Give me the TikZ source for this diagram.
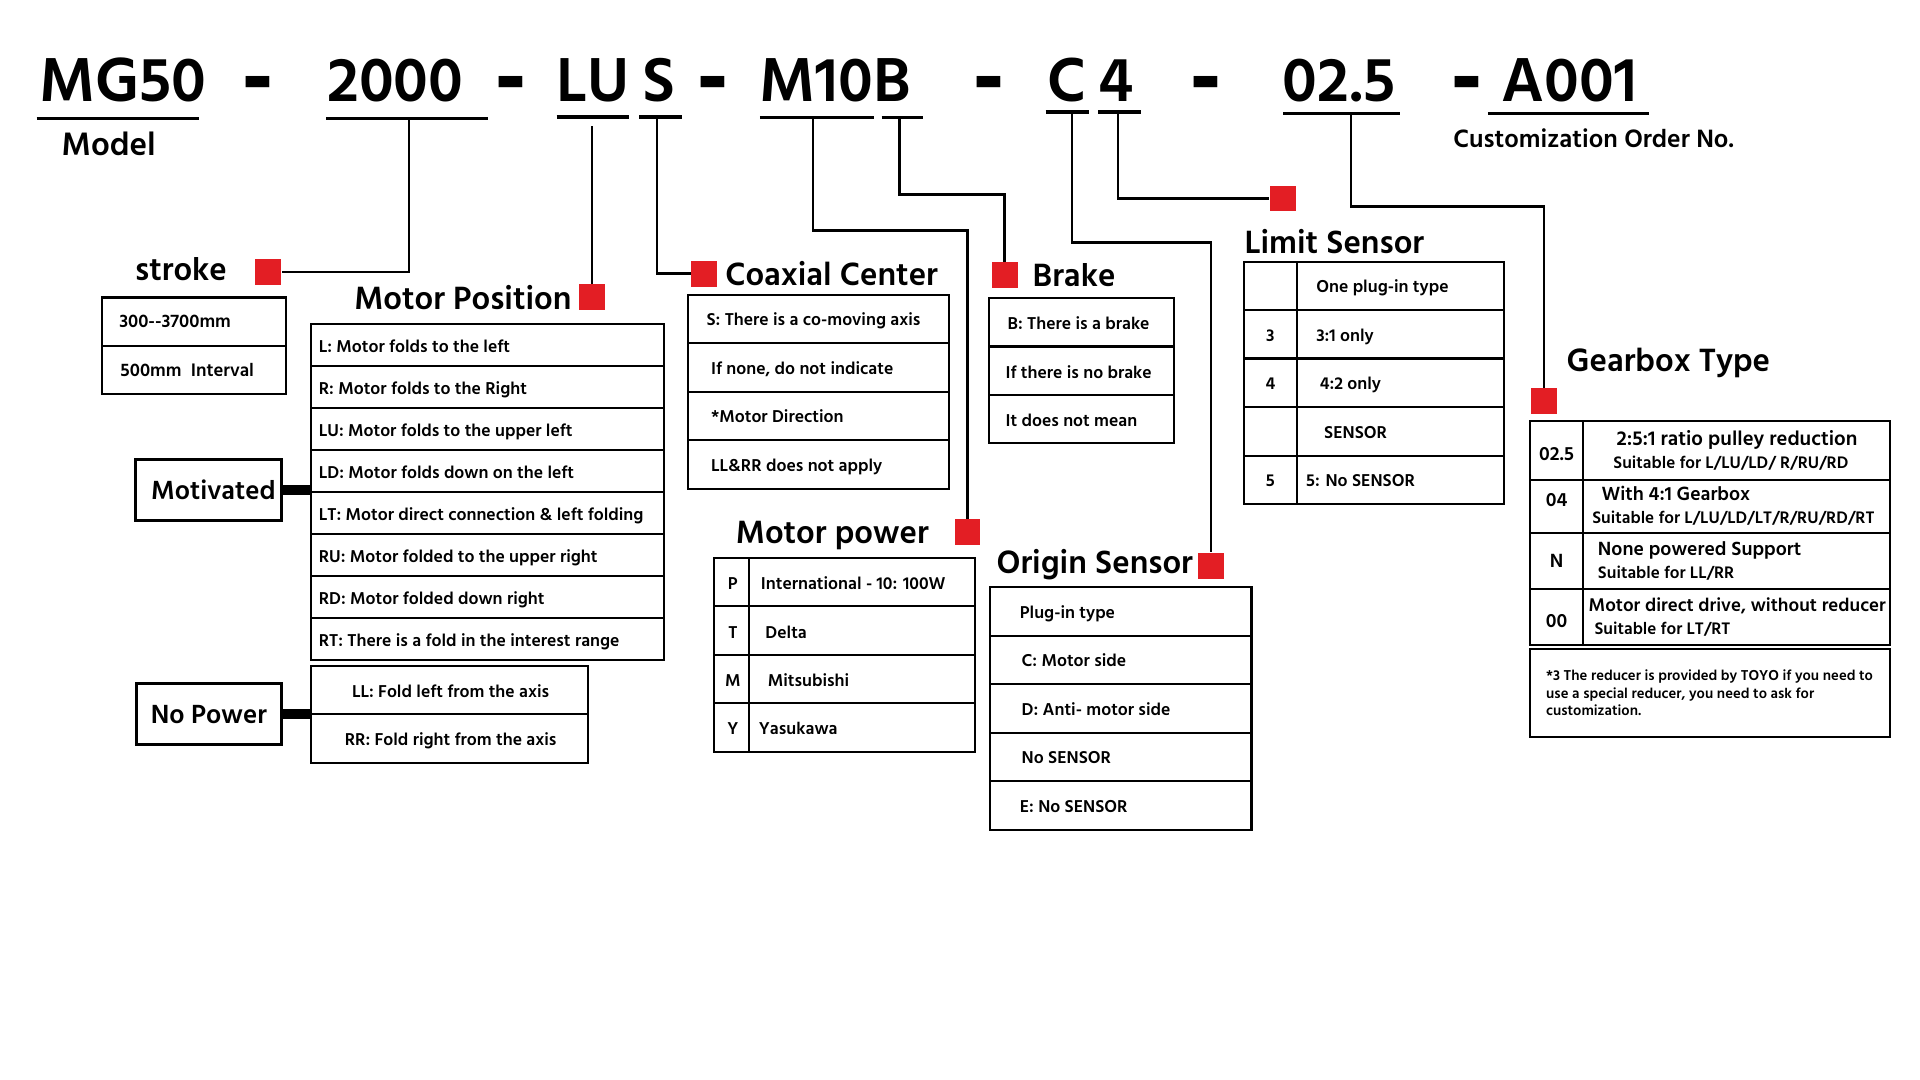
\documentclass[tikz,border=0pt]{standalone}
\usepackage{fontspec}
\setmainfont{Hind Madurai}
\newfontfamily\dashfont{Liberation Sans}
\usepackage{tikz}
\definecolor{mRed}{HTML}{E31E24}

\begin{document}
\begin{tikzpicture}[x=0.5pt,y=-0.5pt,
  box/.style={line width=0.9pt},
  wire/.style={line width=1pt},
  uline/.style={line width=1.3pt},
  frame/.style={draw,line width=0.9pt,inner sep=0pt,outer sep=0pt,anchor=north west},
  redsq/.style={fill=mRed,minimum size=10.5pt,inner sep=0pt},
  code/.style={font=\fontsize{26}{28}\selectfont\bfseries,anchor=base west,inner sep=0pt},
  sep/.style={font=\dashfont\fontsize{26}{28}\selectfont\bfseries,anchor=base,inner sep=0pt},
  head/.style={font=\fontsize{13.5}{15}\selectfont\bfseries,anchor=base west,inner sep=0pt},
  cell/.style={font=\fontsize{7.2}{8}\selectfont\bfseries,anchor=mid west,inner sep=0pt},
  gtop/.style={font=\fontsize{8}{9}\selectfont\bfseries,anchor=base west,inner sep=0pt},
  gsub/.style={font=\fontsize{7}{8}\selectfont\bfseries,anchor=base west,inner sep=0pt},
  sidebox/.style={draw,line width=1.2pt,minimum width=59.3pt,minimum height=25pt,inner sep=0pt,
    font=\fontsize{11}{12}\selectfont\bfseries},
  bar/.style={line width=4pt}]
  \useasboundingbox (0,0) rectangle (1568,882);

  % part number
  \foreach \n/\x/\t in {cMG/32/MG50, cLen/267/2000, cLU/454/LU, cS/524/S, cM/620/M10B,
      cC/855/C, cFour/897/4, cGear/1047/02.5, cA/1226/A001}
    \node[code] (\n) at (\x,83) {\t};
  \foreach \x [count=\i] in {210.5,417,582.6,808,984.5,1198}
    \node[sep] (dash\i) at (\x,87) {\scalebox{1.46}[1.48]{-}};
  \foreach \a/\b/\y in {30/162.5/97, 266.5/398.7/96.6, 454.6/513.6/95.5, 522/556.6/95.5,
      620.6/714/96, 720/754/96, 854/889/91.5, 897/932/91.5, 1048/1143/92.8, 1215/1347/92.8}
    \draw[uline] (\a,\y) -- (\b,\y);

  \node[font=\fontsize{13.6}{15}\selectfont\bfseries,anchor=base west,inner sep=0pt] (model) at (50,126.6) {Model};
  \node[font=\fontsize{10.5}{12}\selectfont\bfseries,anchor=base west,inner sep=0pt] (order) at (1186.6,120.4) {Customization Order No.};

  \coordinate (uLen) at (334,96.6);
  \coordinate (uLU) at (483.3,103);
  \coordinate (uS) at (536.5,95.5);
  \coordinate (uM) at (664,96);
  \coordinate (uB) at (734.5,96);
  \coordinate (uC) at (875.5,91.5);
  \coordinate (uFour) at (913,91.5);
  \coordinate (uGear) at (1103.5,92.8);

  \node[redsq] (sqStroke) at (219,222) {};
  \node[redsq] (sqPos) at (483.3,242.5) {};
  \node[redsq] (sqCoax) at (575,223.5) {};
  \node[redsq] (sqBrake) at (820.5,224.5) {};
  \node[redsq] (sqPower) at (790,434.5) {};
  \node[redsq] (sqOrigin) at (989,462) {};
  \node[redsq] (sqLimit) at (1047.5,162) {};
  \node[redsq] (sqGear) at (1261,327.5) {};

  \draw[wire] (uLen) |- (sqStroke.east);
  \draw[wire] (uLU) -- (sqPos.north);
  \draw[wire] (uS) |- (sqCoax.west);
  \draw[wire] (uM) -- ++(0,92.4) -| (sqPower.north);
  \draw[wire] (uB) -- ++(0,63) -| (sqBrake.north);
  \draw[wire] (uC) -- ++(0,106.5) -| (sqOrigin.north);
  \draw[wire] (uFour) |- (sqLimit.west);
  \draw[wire] (uGear) -- ++(0,75.7) -| (sqGear.north);

  \node[head] (hStroke) at (110,228.7) {stroke};
  \node[head] (hPos) at (289,253) {Motor Position};
  \node[head] (hCoax) at (592,233) {Coaxial Center};
  \node[head] (hBrake) at (843,234) {Brake};
  \node[head] (hPower) at (600.6,443.5) {Motor power};
  \node[head] (hOrigin) at (813.5,468) {Origin Sensor};
  \node[head] (hLimit) at (1016,207) {Limit Sensor};
  \node[head] (hGear) at (1279,303.3) {Gearbox Type};

  % stroke
  \node[frame,minimum width=75.1pt,minimum height=39.5pt] (tStroke) at (83.5,243) {};
  \draw[box] (83.5,282.6) -- (233.7,282.6);
  \node[cell,font=\fontsize{7.6}{8}\selectfont\bfseries] (st1) at (97,262.5) {300-{}-3700mm};
  \node[cell,font=\fontsize{7.6}{8}\selectfont\bfseries] (st2) at (98,302.5) {500mm\ \ Interval};

  % motor position
  \node[frame,minimum width=144.15pt,minimum height=137.35pt] (tPos) at (254,264.3) {};
  \foreach \t [count=\i from 0] in {L: Motor folds to the left, R: Motor folds to the Right,
      LU: Motor folds to the upper left, LD: Motor folds down on the left,
      LT: Motor direct connection \& left folding, RU: Motor folded to the upper right,
      RD: Motor folded down right, RT: There is a fold in the interest range}{
    \draw[box] (254,264.3+34.34*\i) -- (542.3,264.3+34.34*\i);
    \node[cell] (pos\i) at (260,282.5+34.34*\i) {\t};
  }
  \node[frame,minimum width=113pt,minimum height=39.5pt] (tAxis) at (254,544) {};
  \draw[box] (254,583) -- (480,583);
  \node[cell,anchor=mid] (ax1) at (368,564.5) {LL: Fold left from the axis};
  \node[cell,anchor=mid] (ax2) at (368,604) {RR: Fold right from the axis};

  \node[sidebox] (mot) at (170.3,400) {\hspace{4pt}Motivated};
  \node[sidebox] (nop) at (170.5,583.3) {No Power};
  \draw[bar] (mot.east) -- (mot.east -| tPos.west);
  \draw[bar] (nop.east) -- (nop.east -| tAxis.west);

  % coaxial center
  \node[frame,minimum width=106.7pt,minimum height=79.2pt] (tCoax) at (561.6,241) {};
  \foreach \y in {280.4,320.4,359.6} \draw[box] (561.6,\y) -- (775,\y);
  \foreach \x/\t [count=\i] in {576.6/{S: There is a co-moving axis}, 580.3/{If none, do not indicate},
      580.3/{*Motor Direction}, 580.3/{LL\&RR does not apply}}
    \node[cell] (cx\i) at (\x,221.5+39.6*\i) {\t};

  % brake
  \node[frame,minimum width=75.5pt,minimum height=59.2pt] (tBrake) at (807.5,243.6) {};
  \foreach \y in {283,322.6} \draw[box] (807.5,\y) -- (958.5,\y);
  \foreach \x/\t [count=\i] in {822.5/{B: There is a brake}, 820.8/{If there is no brake},
      820.8/{It does not mean}}
    \node[cell] (br\i) at (\x,224.5+39.6*\i) {\t};

  % motor power
  \node[frame,minimum width=106.5pt,minimum height=79pt] (tPower) at (583,456) {};
  \foreach \y in {495,535,574.4} \draw[box] (583,\y) -- (796,\y);
  \draw[box] (611.6,456) -- (611.6,614);
  \foreach \k/\x/\t [count=\i] in {P/621/{International - 10: 100W}, T/624.7/Delta,
      M/626.6/Mitsubishi, Y/619.4/Yasukawa}{
    \node[cell,anchor=mid] (pk\i) at (598.5,437+39.5*\i) {\k};
    \node[cell] (pt\i) at (\x,437+39.5*\i) {\t};
  }

  % origin sensor
  \node[frame,minimum width=106.75pt,minimum height=99.25pt] (tOrigin) at (808.5,479.5) {};
  \foreach \y in {519.4,558.9,598.4,638} \draw[box] (808.5,\y) -- (1022,\y);
  \foreach \x/\t [count=\i] in {832.5/{Plug-in type}, 834/{C: Motor side}, 834/{D: Anti- motor side},
      834/{No SENSOR}, 832.5/{E: No SENSOR}}
    \node[cell] (or\i) at (\x,460+39.7*\i) {\t};

  % limit sensor
  \node[frame,minimum width=106.25pt,minimum height=99pt] (tLimit) at (1016,213.7) {};
  \foreach \y in {253,292.7,332.5,372.5} \draw[box] (1016,\y) -- (1228.5,\y);
  \draw[box] (1059,213.7) -- (1059,411.7);
  \foreach \x/\t [count=\i] in {1074.6/{One plug-in type}, 1074.6/{3:1 only}, 1077.4/{4:2 only},
      1081/SENSOR, 1066.3/{5: No SENSOR}}
    \node[cell] (li\i) at (\x,194.5+39.6*\i) {\t};
  \foreach \k/\i in {3/2,4/3,5/5}
    \node[cell,anchor=mid] (lk\k) at (1037.5,194.5+39.6*\i) {\k};

  % gearbox type
  \node[frame,minimum width=146.8pt,minimum height=91.5pt] (tGear) at (1249.6,344) {};
  \foreach \y in {391.7,435,481} \draw[box] (1249.6,\y) -- (1543.2,\y);
  \draw[box] (1292.8,344) -- (1292.8,527);
  \foreach \k/\y [count=\i] in {02.5/375.7, 04/414, N/463.5, 00/512.8}
    \node[gtop,anchor=base] (gk\i) at (1271.2,\y) {\k};
  \node[gtop,font=\fontsize{8.4}{9}\selectfont\bfseries] (ga1) at (1319.8,363.8) {2:5:1 ratio pulley reduction};
  \node[gsub] (ga2) at (1317.2,382.7) {Suitable for L/LU/LD/ R/RU/RD};
  \node[gtop] (gb1) at (1307.5,408.9) {With 4:1 Gearbox};
  \node[gsub] (gb2) at (1300,427.8) {Suitable for L/LU/LD/LT/R/RU/RD/RT};
  \node[gtop] (gc1) at (1304.6,454) {None powered Support};
  \node[gsub] (gc2) at (1304.6,472.8) {Suitable for LL/RR};
  \node[gtop,font=\fontsize{7.7}{9}\selectfont\bfseries] (gd1) at (1297,499.6) {Motor direct drive, without reducer};
  \node[gsub] (gd2) at (1301.8,517.8) {Suitable for LT/RT};
  \node[frame,minimum width=146.8pt,minimum height=36pt] (tNote) at (1249.6,530) {};
  \node[font=\fontsize{6}{7.2}\selectfont\bfseries,anchor=north west,align=left,inner sep=0pt] (note)
    at (1262.3,546.5) {*3 The reducer is provided by TOYO if you need to\\use a special reducer, you need to ask for\\customization.};
\end{tikzpicture}
\end{document}
